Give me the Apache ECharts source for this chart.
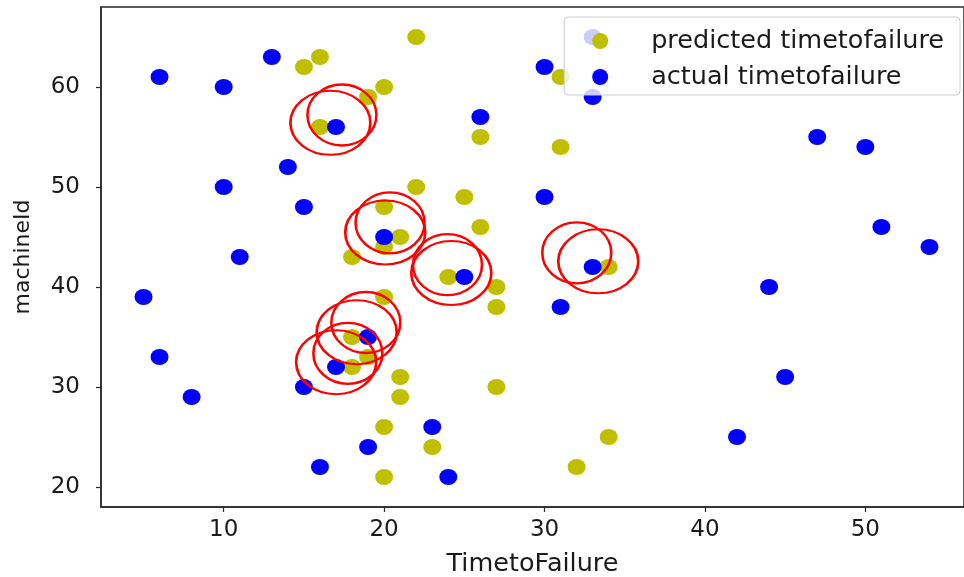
<!DOCTYPE html>
<html>
<head>
<meta charset="utf-8">
<script src="https://cdn.jsdelivr.net/npm/echarts/dist/echarts.min.js"></script>
<style>
  html, body { margin: 0; padding: 0; background: #ffffff; }
  #chart { width: 964px; height: 577px; }
</style>
</head>
<body>
<div id="chart"></div>
<script>
// Predicted time to failure per machine
const predictedTime    = [22, 16, 15, 20, 19, 16, 22, 20, 21, 20, 18, 31, 26, 31, 25, 26, 20, 18, 19, 18, 21, 21, 20, 23, 20, 24, 27, 27, 34, 27, 34, 32];
const predictedMachine = [65, 63, 62, 60, 59, 56, 50, 48, 45, 44, 43, 61, 55, 54, 49, 46, 39, 35, 33, 32, 31, 29, 26, 24, 21, 41, 40, 38, 42, 30, 25, 22];

// Actual time to failure per machine
const actualTime    = [13, 6, 10, 17, 14, 10, 15, 20, 11, 33, 30, 33, 26, 30, 47, 50, 51, 54, 5, 19, 6, 17, 15, 8, 23, 19, 16, 25, 33, 31, 24, 44, 45, 42];
const actualMachine = [63, 61, 60, 56, 52, 50, 48, 45, 43, 65, 62, 59, 57, 49, 55, 54, 46, 44, 39, 35, 33, 32, 30, 29, 26, 24, 22, 41, 42, 38, 21, 40, 31, 25];

// Hand-drawn highlight rings around close predictions (centres in data units)
const ringInnerTime    = [17.37, 20.37, 23.95, 32.01, 18.86, 17.74];
const ringInnerMachine = [57.20, 46.42, 42.23, 43.42, 36.45, 33.37];
const ringOuterTime    = [16.65, 20.07, 24.19, 33.35, 18.29, 17.01];
const ringOuterMachine = [56.42, 45.45, 41.40, 42.57, 35.48, 32.48];

// Tick labels
const xTicks = [10, 20, 30, 40, 50];
const yTicks = [20, 30, 40, 50, 60];

const zip = (a, b) => a.map((v, i) => [v, b[i]]);

const FONT = 'DejaVu Sans';
const INK = '#1a1a1a';

const ringStyle = {
  color: 'rgba(0,0,0,0)',
  borderColor: '#ff0000',
  borderWidth: 2.4,
  opacity: 1
};

const chart = echarts.init(document.getElementById('chart'), null, { renderer: 'canvas' });

chart.setOption({
  animation: false,
  backgroundColor: '#ffffff',
  grid: {
    left: 101, right: 0, top: 7, bottom: 70,
    outerBoundsMode: 'none',
    containLabel: false,
    show: true,
    borderColor: '#2a2a2a',
    borderWidth: 1.5,
    backgroundColor: 'transparent'
  },
  legend: {
    data: [
      { name: 'predicted timetofailure', icon: 'circle' },
      { name: 'actual timetofailure', icon: 'circle' }
    ],
    orient: 'vertical',
    right: 4,
    top: 17,
    itemWidth: 18,
    itemHeight: 16,
    itemGap: 10,
    padding: [11, 16, 5, 28],
    backgroundColor: 'rgba(255,255,255,0.8)',
    borderColor: '#cccccc',
    borderWidth: 1,
    borderRadius: 4,
    textStyle: {
      fontFamily: FONT,
      fontSize: 25.5,
      lineHeight: 25,
      color: INK,
      padding: [0, 0, 0, 37]
    }
  },
  xAxis: {
    type: 'value',
    min: 2.35,
    max: 56.15,
    name: 'TimetoFailure',
    nameLocation: 'middle',
    nameGap: 44,
    nameTextStyle: { fontFamily: FONT, fontSize: 25.5, color: INK },
    splitLine: { show: false },
    axisLine: { show: true, onZero: false, lineStyle: { color: '#2a2a2a', width: 1.5 } },
    axisTick: { show: true, length: 5, customValues: xTicks, lineStyle: { color: '#2a2a2a', width: 1.2 } },
    axisLabel: { customValues: xTicks, margin: 12, fontFamily: FONT, fontSize: 23, color: INK }
  },
  yAxis: {
    type: 'value',
    min: 18,
    max: 68,
    name: 'machineId',
    nameLocation: 'middle',
    nameGap: 67,
    nameTextStyle: { fontFamily: FONT, fontSize: 22, color: INK },
    splitLine: { show: false },
    axisLine: { show: true, onZero: false, lineStyle: { color: '#2a2a2a', width: 1.5 } },
    axisTick: { show: true, length: 5, customValues: yTicks, lineStyle: { color: '#2a2a2a', width: 1.2 } },
    axisLabel: { customValues: yTicks, margin: 21, fontFamily: FONT, fontSize: 23, color: INK }
  },
  series: [
    {
      name: 'predicted timetofailure',
      type: 'scatter',
      symbol: 'circle',
      symbolSize: [18, 16],
      itemStyle: { color: '#bfbf00', opacity: 1 },
      data: zip(predictedTime, predictedMachine),
      z: 2
    },
    {
      name: 'actual timetofailure',
      type: 'scatter',
      symbol: 'circle',
      symbolSize: [18, 16],
      itemStyle: { color: '#0000ff', opacity: 1 },
      data: zip(actualTime, actualMachine),
      z: 2
    },
    {
      name: 'inner rings',
      type: 'scatter',
      silent: true,
      symbol: 'circle',
      symbolSize: [69, 61],
      itemStyle: ringStyle,
      data: zip(ringInnerTime, ringInnerMachine),
      z: 3
    },
    {
      name: 'outer rings',
      type: 'scatter',
      silent: true,
      symbol: 'circle',
      symbolSize: [80, 64],
      itemStyle: ringStyle,
      data: zip(ringOuterTime, ringOuterMachine),
      z: 3
    }
  ]
});
</script>
</body>
</html>
